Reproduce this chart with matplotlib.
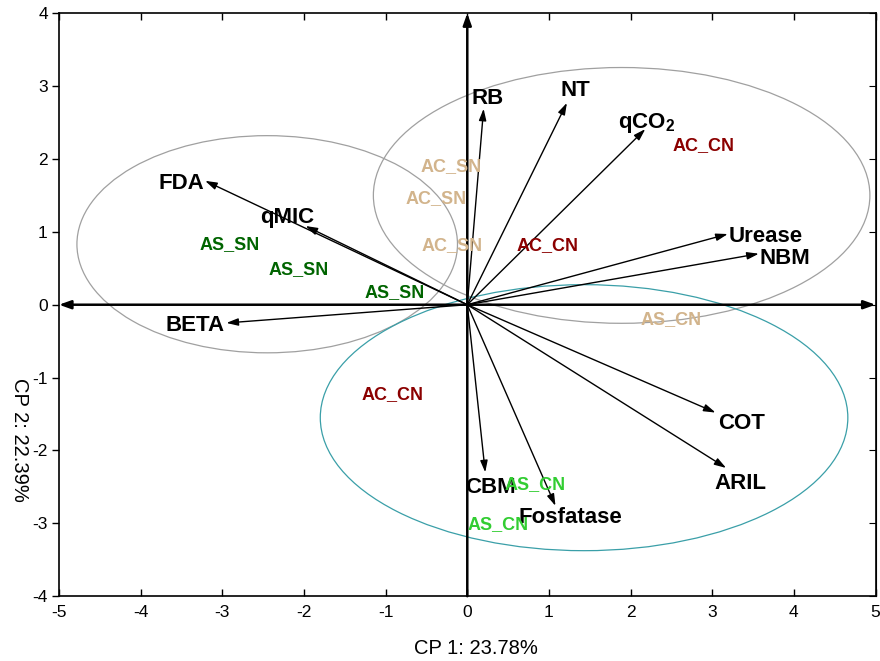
import matplotlib
matplotlib.use("Agg")
import matplotlib.pyplot as plt
from matplotlib.patches import Ellipse

plt.rcParams["font.family"] = ["Liberation Sans", "DejaVu Sans"]
plt.rcParams["axes.unicode_minus"] = False
plt.rcParams["mathtext.fontset"] = "custom"
plt.rcParams["mathtext.rm"] = "Liberation Sans"
plt.rcParams["mathtext.bf"] = "Liberation Sans:bold"

# variable loadings (arrow tips)
var_names = ["RB", "NT", r"qCO$_{\mathbf{2}}$", "Urease", "NBM", "COT", "ARIL",
             "CBM", "Fosfatase", "FDA", "qMIC", "BETA"]
var_x = [0.20, 1.22, 2.18, 3.19, 3.57, 3.04, 3.17, 0.22, 1.08, -3.21, -1.98, -2.95]
var_y = [2.69, 2.77, 2.41, 0.97, 0.70, -1.48, -2.24, -2.30, -2.76, 1.70, 1.08, -0.25]
# label centres
lab_x = [0.25, 1.32, 2.20, 3.66, 3.89, 3.36, 3.35, 0.28, 1.26, -3.50, -2.20, -3.33]
lab_y = [2.83, 2.94, 2.50, 0.94, 0.63, -1.63, -2.46, -2.51, -2.92, 1.67, 1.19, -0.29]

# sample scores
samp_names = ["AC_SN", "AC_SN", "AC_SN", "AC_CN", "AC_CN", "AC_CN", "AS_CN",
              "AS_SN", "AS_SN", "AS_SN", "AS_CN", "AS_CN"]
samp_x = [-0.20, -0.38, -0.18, 2.89, 0.98, -0.91, 2.49, -2.91, -2.07, -0.89, 0.83, 0.38]
samp_y = [1.89, 1.45, 0.81, 2.18, 0.81, -1.23, -0.21, 0.82, 0.48, 0.16, -2.47, -3.02]
samp_col = ["#D2B48C"] * 3 + ["#8B0000"] * 3 + ["#D2B48C"] + ["#006400"] * 3 + ["#32CD32"] * 2

# group ellipses: center x, center y, width, height, colour
ell_cx = [-2.45, 1.89, 1.43]
ell_cy = [0.83, 1.50, -1.55]
ell_w = [4.66, 6.08, 6.46]
ell_h = [2.98, 3.51, 3.65]
ell_col = ["#A0A0A0", "#A0A0A0", "#3A9FA8"]

fig = plt.figure(figsize=(8.8, 6.61), dpi=100)
ax = fig.add_axes([0.067, 0.098, 0.928, 0.882])
ax.set_xlim(-5, 5)
ax.set_ylim(-4, 4)

for cx, cy, w, h, c in zip(ell_cx, ell_cy, ell_w, ell_h, ell_col):
    ax.add_patch(Ellipse((cx, cy), w, h, fill=False, edgecolor=c, lw=0.9))

# axis arrows
ax.annotate("", xy=(5, 0), xytext=(-5, 0),
            arrowprops=dict(arrowstyle="<|-|>,head_length=0.7,head_width=0.25",
                            color="black", lw=1.8, shrinkA=0, shrinkB=0))
ax.annotate("", xy=(0, 4), xytext=(0, -4),
            arrowprops=dict(arrowstyle="-|>,head_length=0.7,head_width=0.25",
                            color="black", lw=1.8, shrinkA=0, shrinkB=0))

for name, x, y, lx, ly in zip(var_names, var_x, var_y, lab_x, lab_y):
    ax.annotate("", xy=(x, y), xytext=(0, 0),
                arrowprops=dict(arrowstyle="-|>,head_length=0.7,head_width=0.22",
                                color="black", lw=1.0, shrinkA=0, shrinkB=0))
    ax.text(lx, ly, name, fontsize=16, fontweight="bold",
            ha="center", va="center")

for name, x, y, c in zip(samp_names, samp_x, samp_y, samp_col):
    ax.text(x, y, name, fontsize=13, fontweight="bold", color=c,
            ha="center", va="center")

ax.set_xticks(range(-5, 6))
ax.set_yticks(range(-4, 5))
ax.tick_params(axis="both", labelsize=12.5, length=5, width=1)
ax.tick_params(axis="x", direction="in", top=True, pad=6)
ax.tick_params(axis="y", direction="out", right=False, pad=3)
ax2 = ax.secondary_yaxis("right")
ax2.set_yticks(range(-4, 5))
ax2.tick_params(direction="in", length=5, labelright=False)
for s in ax.spines.values():
    s.set_linewidth(1.2)

fig.text(476 / 880, 1 - 649 / 661, "CP 1: 23.78%", fontsize=14.5,
         ha="center", va="center")
fig.text(19 / 880, 1 - 440 / 661, "CP 2: 22.39%", fontsize=14.5,
         rotation=-90, ha="center", va="center")

fig.savefig("out.png", dpi=100)
